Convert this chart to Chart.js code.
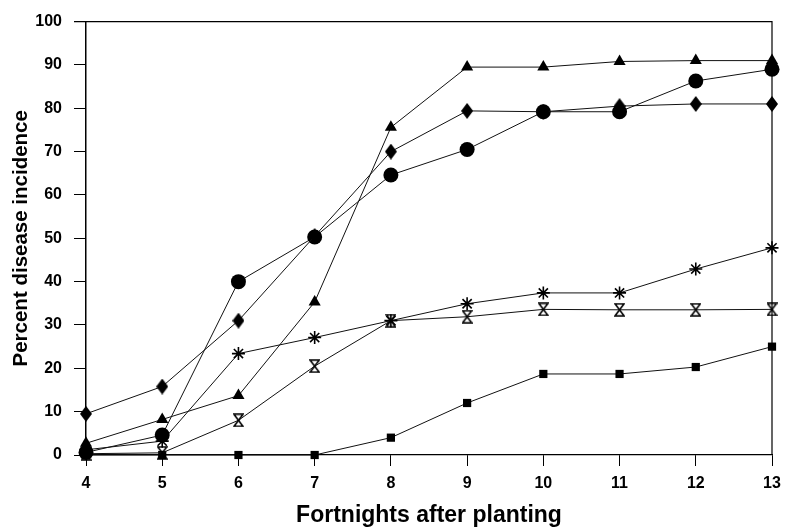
<!DOCTYPE html>
<html>
<head>
<meta charset="utf-8">
<script src="https://cdn.jsdelivr.net/npm/chart.js@4"></script>
<style>
  body { margin: 0; background: #fff; }
  #wrap { width: 791px; height: 531px; }
</style>
</head>
<body>
<div id="wrap"><canvas id="myChart" width="791" height="531"></canvas></div>
<script>
const fortnights = [4, 5, 6, 7, 8, 9, 10, 11, 12, 13];
const diamondData = [9.5, 15.8, 31, 50.5, 70, 79.4, 79.2, 80.5, 81, 81];
const triangleData = [2.7, 8.2, 13.7, 35.3, 75.6, 89.5, 89.5, 90.8, 91, 91];
const circleData = [0.6, 4.6, 40, 50.3, 64.6, 70.5, 79.2, 79.2, 86.3, 89];
const starData = [1.2, 3.2, 23.4, 27.1, 31, 34.9, 37.4, 37.4, 42.9, 47.8];
const hourglassData = [0.3, 0.5, 8, 20.5, 31, 31.9, 33.6, 33.5, 33.5, 33.6];
const squareData = [0, 0, 0, 0, 4, 12, 18.7, 18.7, 20.3, 25];

const yTicks = [0, 10, 20, 30, 40, 50, 60, 70, 80, 90, 100];

// little marker images for shapes chart.js doesn't have
function makeDiamond() {
  const c = document.createElement('canvas');
  c.width = 12; c.height = 16;
  const g = c.getContext('2d');
  g.fillStyle = '#000';
  g.beginPath();
  g.moveTo(6, 0);
  g.lineTo(12, 8);
  g.lineTo(6, 16);
  g.lineTo(0, 8);
  g.closePath();
  g.fill();
  return c;
}

function makeHourglass() {
  const c = document.createElement('canvas');
  c.width = 11; c.height = 14;
  const g = c.getContext('2d');
  g.strokeStyle = '#000';
  g.lineWidth = 1.6;
  g.beginPath();
  g.moveTo(1, 1);
  g.lineTo(10, 1);
  g.lineTo(1, 13);
  g.lineTo(10, 13);
  g.closePath();
  g.stroke();
  return c;
}

function toPoints(values) {
  return values.map((v, i) => ({ x: fortnights[i], y: v }));
}

function series(label, values, style, radius) {
  return {
    label: label,
    data: toPoints(values),
    borderColor: '#111',
    borderWidth: 1,
    backgroundColor: '#000',
    pointBackgroundColor: '#000',
    pointBorderColor: '#000',
    pointBorderWidth: style === 'star' ? 1.6 : 0,
    pointStyle: style,
    pointRadius: radius,
    pointHoverRadius: radius,
    fill: false,
    tension: 0,
    clip: false
  };
}

const frame = {
  id: 'frame',
  afterDatasetsDraw(chart) {
    const a = chart.chartArea;
    const c = chart.ctx;
    c.save();
    c.strokeStyle = '#000';
    c.lineWidth = 1.2;
    c.beginPath();
    c.moveTo(a.left - 12, a.top);
    c.lineTo(a.right, a.top);
    c.lineTo(a.right, a.bottom);
    c.stroke();
    c.restore();
  }
};

const ctx = document.getElementById('myChart');

let myChart = new Chart(ctx, {
  type: 'line',
  data: {
    datasets: [
      series('A', diamondData, makeDiamond(), 7),
      series('B', triangleData, 'triangle', 7),
      series('C', circleData, 'circle', 7.5),
      series('D', starData, 'star', 6.5),
      series('E', hourglassData, makeHourglass(), 7),
      series('F', squareData, 'rect', 5.8)
    ]
  },
  options: {
    responsive: false,
    animation: false,
    events: [],
    layout: {
      padding: { top: 16, right: 19, left: 0, bottom: 0 }
    },
    plugins: {
      legend: { display: false },
      tooltip: { enabled: false }
    },
    scales: {
      x: {
        type: 'linear',
        min: 4,
        max: 13,
        afterFit: (s) => { s.height = 76; },
        border: { display: true, color: '#000', width: 1.2 },
        grid: { drawOnChartArea: false, drawTicks: true, tickLength: 11, color: '#000' },
        ticks: {
          stepSize: 1,
          padding: 8,
          color: '#000',
          font: { family: 'Liberation Sans', weight: 'bold', size: 16 }
        },
        title: {
          display: true,
          text: 'Fortnights after planting',
          color: '#000',
          padding: { top: 0, bottom: 2 },
          font: { family: 'Liberation Sans', weight: 'bold', size: 23 }
        }
      },
      y: {
        min: 0,
        max: 100,
        afterFit: (s) => { s.width = 86; },
        afterBuildTicks: (s) => { s.ticks = yTicks.map(v => ({ value: v })); },
        border: { display: true, color: '#000', width: 1.5 },
        grid: { drawOnChartArea: false, drawTicks: true, tickLength: 12, color: '#000' },
        ticks: {
          padding: 12,
          color: '#000',
          font: { family: 'Liberation Sans', weight: 'bold', size: 16 }
        },
        title: {
          display: true,
          text: 'Percent disease incidence',
          color: '#000',
          padding: { top: 9, bottom: 0 },
          font: { family: 'Liberation Sans', weight: 'bold', size: 20.5 }
        }
      }
    }
  },
  plugins: [frame]
});
</script>
</body>
</html>
